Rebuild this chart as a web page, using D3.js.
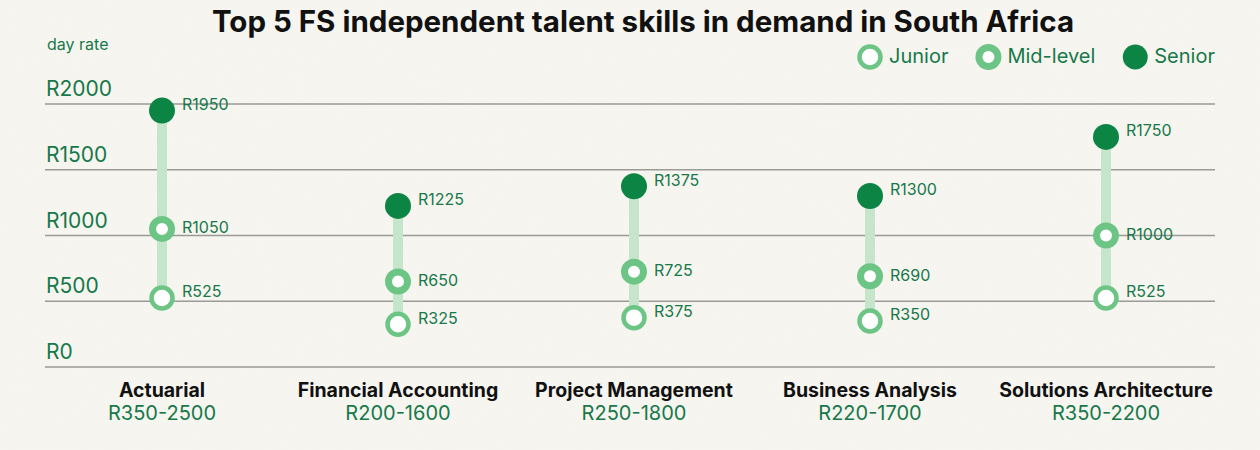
<!DOCTYPE html>
<html>
<head>
<meta charset="utf-8">
<style>
  body { margin: 0; background: #f7f6f1; }
  svg { display: block; font-family: Inter, "Noto Sans", sans-serif; }
</style>
</head>
<body>
<svg id="chart" width="1260" height="450"></svg>
<script src="https://cdn.jsdelivr.net/npm/d3@7"></script>
<script>
  // chart data
  const skills = ["Actuarial", "Financial Accounting", "Project Management", "Business Analysis", "Solutions Architecture"]
  const ranges = ["R350-2500", "R200-1600", "R250-1800", "R220-1700", "R350-2200"]
  const junior = [525, 325, 375, 350, 525]
  const midLevel = [1050, 650, 725, 690, 1000]
  const senior = [1950, 1225, 1375, 1300, 1750]
  const yTicks = [0, 500, 1000, 1500, 2000]
  const levels = ["Junior", "Mid-level", "Senior"]

  const dark = "#0b8444"
  const light = "#6cc585"
  const textGreen = "#17784a"

  let svg = d3.select("#chart")

  // paper texture
  let defs = svg.append("defs")
  let f = defs.append("filter").attr("id", "paper")
  f.append("feTurbulence").attr("type", "fractalNoise").attr("baseFrequency", 0.9).attr("numOctaves", 2).attr("result", "n")
  f.append("feColorMatrix").attr("type", "matrix")
    .attr("values", "0 0 0 0 0.55  0 0 0 0 0.54  0 0 0 0 0.5  0 0 0 0.05 0")
  svg.append("rect").attr("width", 1260).attr("height", 450).attr("fill", "#f7f6f1")
  svg.append("rect").attr("width", 1260).attr("height", 450).attr("filter", "url(#paper)")

  let x = d3.scalePoint().domain(skills).range([162, 1106])
  let y = d3.scaleLinear().domain([0, 2000]).range([367, 104])

  // title
  svg.append("text")
    .attr("x", 643).attr("y", 32)
    .attr("text-anchor", "middle")
    .attr("font-size", 29.5).attr("font-weight", 700).attr("fill", "#111")
    .text("Top 5 FS independent talent skills in demand in South Africa")

  svg.append("text")
    .attr("x", 47).attr("y", 50)
    .attr("font-size", 16).attr("fill", textGreen)
    .text("day rate")

  // gridlines + tick labels
  let grid = svg.append("g")
  grid.selectAll("line").data(yTicks).enter().append("line")
    .attr("x1", 45).attr("x2", 1215)
    .attr("y1", d => y(d)).attr("y2", d => y(d))
    .attr("stroke", "#9a9a96").attr("stroke-width", 1.5)
  grid.selectAll("text").data(yTicks).enter().append("text")
    .attr("x", 46).attr("y", d => y(d) - 8)
    .attr("font-size", 21).attr("fill", textGreen)
    .text(d => "R" + d)

  // one group per skill
  let col = svg.selectAll(".col").data(skills).enter().append("g")
    .attr("class", "col")
    .attr("transform", d => `translate(${x(d)},0)`)

  col.append("line")
    .attr("y1", (d, i) => y(senior[i])).attr("y2", (d, i) => y(junior[i]))
    .attr("stroke", "#c6e6cc").attr("stroke-width", 10)

  col.append("circle")
    .attr("cy", (d, i) => y(junior[i])).attr("r", 10.5)
    .attr("fill", "#fff").attr("stroke", light).attr("stroke-width", 4.5)
  col.append("circle")
    .attr("cy", (d, i) => y(midLevel[i])).attr("r", 9.5)
    .attr("fill", "#fff").attr("stroke", light).attr("stroke-width", 7)
  col.append("circle")
    .attr("cy", (d, i) => y(senior[i])).attr("r", 13)
    .attr("fill", dark)

  let vals = [junior, midLevel, senior]
  vals.forEach((arr, k) => {
    col.append("text")
      .attr("x", 20)
      .attr("y", (d, i) => y(arr[i]) - (k === 1 ? 0 : 5))
      .attr("dominant-baseline", "middle")
      .attr("font-size", 16).attr("fill", textGreen)
      .text((d, i) => "R" + arr[i])
  })

  // category labels
  col.append("text")
    .attr("y", 397).attr("text-anchor", "middle")
    .attr("font-size", 19.5).attr("font-weight", 700).attr("fill", "#111")
    .text(d => d)
  col.append("text")
    .attr("y", 420).attr("text-anchor", "middle")
    .attr("font-size", 20).attr("fill", textGreen)
    .text((d, i) => ranges[i])

  // legend, laid out left to right by text width
  let leg = svg.selectAll(".leg").data(levels).enter().append("g")
    .attr("class", "leg")
  leg.append("circle")
    .attr("r", d => d === "Junior" ? 10.5 : d === "Mid-level" ? 9.5 : 12.5)
    .attr("fill", d => d === "Senior" ? dark : "#fff")
    .attr("stroke", d => d === "Senior" ? "none" : light)
    .attr("stroke-width", d => d === "Junior" ? 4.5 : 7)
  leg.append("text")
    .attr("x", 19).attr("y", 1)
    .attr("dominant-baseline", "middle")
    .attr("font-size", 20).attr("fill", textGreen)
    .text(d => d)
  let lx = 870
  leg.each(function () {
    let g = d3.select(this)
    g.attr("transform", `translate(${lx},57)`)
    lx += 19 + g.select("text").node().getComputedTextLength() + 40
  })
</script>
</body>
</html>
